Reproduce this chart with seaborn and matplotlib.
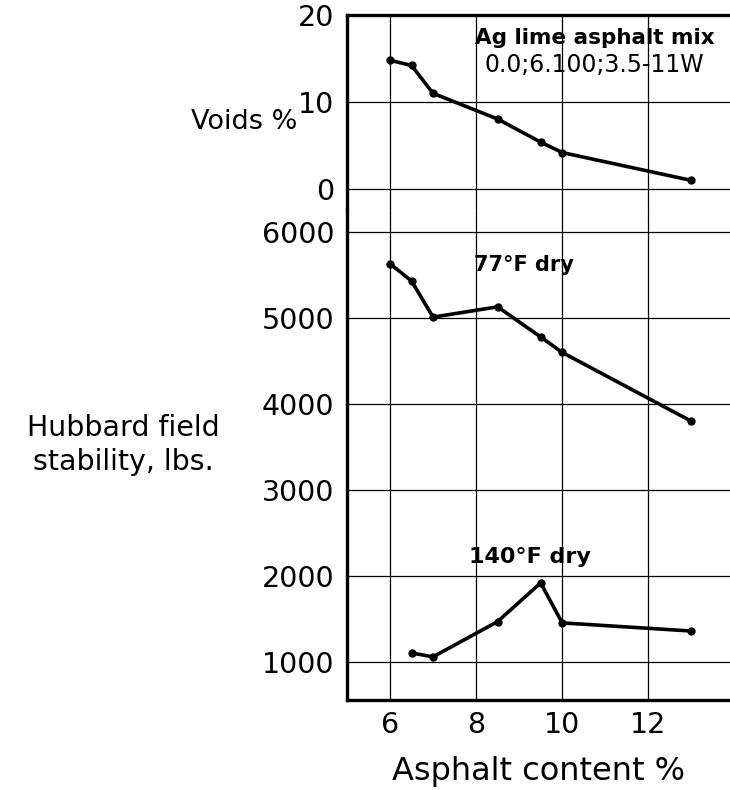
"""
Voids and Hubbard field stability vs asphalt content
Ag lime asphalt mix
"""

import pandas as pd
import numpy as np
import matplotlib
matplotlib.use('Agg')
import matplotlib.pyplot as plt
import seaborn as sns

# data
asphalt_voids = [6.0, 6.5, 7.0, 8.5, 9.5, 10.0, 13.0]
voids_pct = [14.8, 14.2, 11.0, 8.05, 5.4, 4.2, 1.0]

asphalt_77 = [6.0, 6.5, 7.0, 8.5, 9.5, 10.0, 13.0]
stability_77 = [5630, 5430, 5010, 5130, 4780, 4600, 3800]

asphalt_140 = [6.5, 7.0, 8.5, 9.5, 10.0, 13.0]
stability_140 = [1105, 1060, 1470, 1920, 1455, 1360]

x_ticks = [6, 8, 10, 12]
voids_ticks = [0, 10, 20]
stab_ticks = [1000, 2000, 3000, 4000, 5000, 6000]

sns.set_style('white')
plt.rcParams['font.family'] = ['DejaVu Sans']
plt.rcParams.update({'text.color': 'black', 'axes.labelcolor': 'black',
                     'xtick.color': 'black', 'ytick.color': 'black'})

voids = pd.DataFrame({'asphalt': asphalt_voids, 'voids': voids_pct})
stab = pd.concat([
    pd.DataFrame({'asphalt': asphalt_77, 'stability': stability_77, 'temp': '77F'}),
    pd.DataFrame({'asphalt': asphalt_140, 'stability': stability_140, 'temp': '140F'}),
])

W, H = 730, 790
fig = plt.figure(figsize=(7.3, 7.9), dpi=100)
left = 347 / W
ax1 = fig.add_axes([left, 1 - 210 / H, 1 - left, 195 / H])
ax2 = fig.add_axes([left, 1 - 700 / H, 1 - left, 490 / H], sharex=ax1)

lw = 2.6
sns.lineplot(data=voids, x='asphalt', y='voids', ax=ax1, color='black', lw=lw,
             marker='o', markersize=6, markeredgewidth=0)
sns.lineplot(data=stab, x='asphalt', y='stability', units='temp', estimator=None,
             ax=ax2, color='black', lw=lw, marker='o', markersize=6, markeredgewidth=0)

ax1.set_xlim(5, 13.9)
ax1.set_ylim(-2.4, 20)
ax2.set_ylim(558, 6256)

ax1.set_yticks(voids_ticks)
ax2.set_yticks(stab_ticks)
ax2.set_xticks(x_ticks)
ax2.set_xticklabels([str(t) for t in x_ticks])

for ax in (ax1, ax2):
    ax.grid(True, color='black', lw=0.9)
    ax.set_axisbelow(True)
    ax.tick_params(length=0, labelsize=20.5, pad=9)
    ax.spines['right'].set_visible(False)
    for s in ax.spines.values():
        s.set_linewidth(2.4)
        s.set_color('black')
    ax.set_xlabel('')
    ax.set_ylabel('')

ax1.spines['bottom'].set_visible(False)
ax2.spines['top'].set_visible(False)
ax1.tick_params(axis='x', labelbottom=False)
ax2.tick_params(axis='x', pad=8)

ax1.set_ylabel('Voids %', rotation=0, fontsize=19.5, ha='right', va='center')
ax1.yaxis.set_label_coords(-0.13, 0.45)
ax2.set_ylabel('Hubbard field\nstability, lbs.', rotation=0, fontsize=20.5,
               ha='center', va='center', linespacing=1.3)
ax2.yaxis.set_label_coords(-0.585, 0.52)
ax2.set_xlabel('Asphalt content %', fontsize=23, labelpad=12)

ax1.text(10.75, 17.4, 'Ag lime asphalt mix', fontsize=15.5, fontweight='bold',
         ha='center', va='center')
ax1.text(10.75, 14.3, '0.0;6.100;3.5-11W', fontsize=17, ha='center', va='center')
ax2.text(9.1, 5620, '77°F dry', fontsize=15, fontweight='bold',
         ha='center', va='center')
ax2.text(9.25, 2220, '140°F dry', fontsize=16, fontweight='bold',
         ha='center', va='center')

fig.savefig('out.png', dpi=100)
plt.close('all')
